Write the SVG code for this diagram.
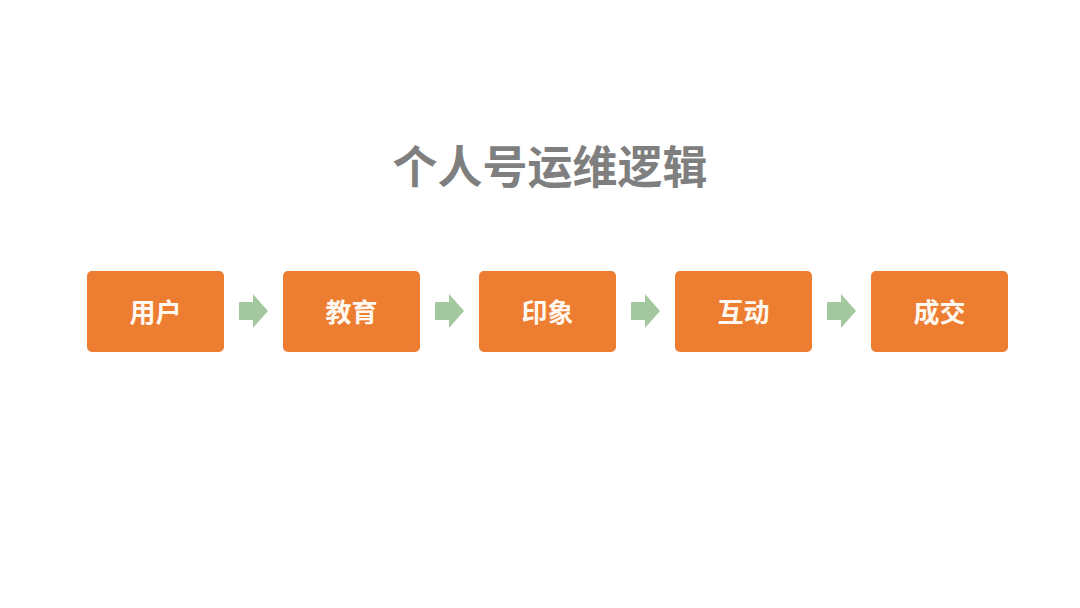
<svg xmlns="http://www.w3.org/2000/svg" width="1080" height="608" viewBox="0 0 1080 608">
<defs>
<style>
.box{fill:#ED7D31;}
.lbl{font-family:"Noto Sans CJK SC","Liberation Sans",sans-serif;font-size:26px;font-weight:bold;fill:#FFF8F0;text-anchor:middle;dominant-baseline:central;}
.arr{fill:#A3C8A0;}
.title{font-family:"Noto Sans CJK SC","Liberation Sans",sans-serif;font-size:45px;font-weight:bold;fill:#7F7F7F;text-anchor:middle;}
</style>
<path id="arrow" d="M0,8 H14 V0 L29,17 L14,34 V26 H0 Z"/>
</defs>
<rect width="1080" height="608" fill="#FFFFFF"/>
<text class="title" x="550" y="184">个人号运维逻辑</text>
<g id="connectors">
<use href="#arrow" class="arr" x="239" y="294"/>
<use href="#arrow" class="arr" x="435" y="294"/>
<use href="#arrow" class="arr" x="631" y="294"/>
<use href="#arrow" class="arr" x="827" y="294"/>
</g>
<g id="node1"><rect class="box" x="87" y="271" width="137" height="81" rx="5"/><text class="lbl" x="155.5" y="310">用户</text></g>
<g id="node2"><rect class="box" x="283" y="271" width="137" height="81" rx="5"/><text class="lbl" x="351.5" y="310">教育</text></g>
<g id="node3"><rect class="box" x="479" y="271" width="137" height="81" rx="5"/><text class="lbl" x="547.5" y="310">印象</text></g>
<g id="node4"><rect class="box" x="675" y="271" width="137" height="81" rx="5"/><text class="lbl" x="743.5" y="310">互动</text></g>
<g id="node5"><rect class="box" x="871" y="271" width="137" height="81" rx="5"/><text class="lbl" x="939.5" y="310">成交</text></g>
</svg>
